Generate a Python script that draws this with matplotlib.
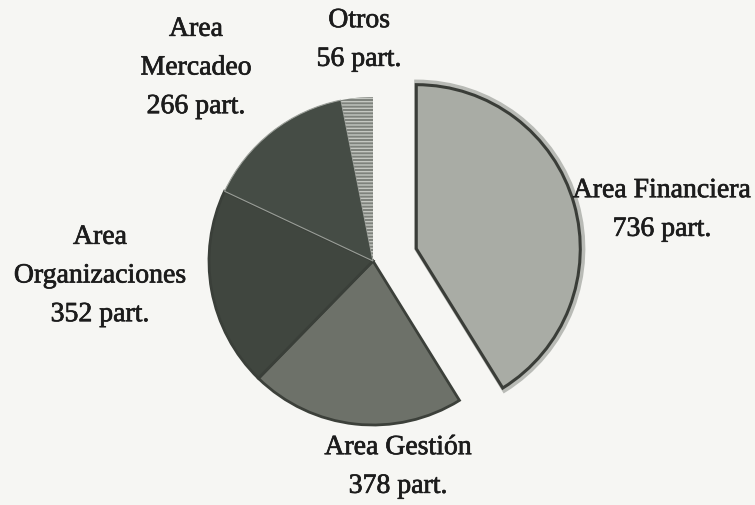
import matplotlib
matplotlib.use("Agg")
import matplotlib.pyplot as plt
from matplotlib.patches import Wedge
import matplotlib.patheffects as pe

# data
areas = ["Area Financiera", "Area Gestión", "Area Organizaciones", "Area Mercadeo", "Otros"]
participants = [736, 378, 352, 266, 56]
label_texts = ["Area Financiera\n736 part.", "Area Gestión\n378 part.",
               "Area\nOrganizaciones\n352 part.", "Area\nMercadeo\n266 part.",
               "Otros\n56 part."]

W, H = 755, 506
matplotlib.rcParams["hatch.color"] = "#c4c7c1"
matplotlib.rcParams["hatch.linewidth"] = 1.0
fig = plt.figure(figsize=(W / 100, H / 100), dpi=100)
fig.patch.set_facecolor("#f6f6f3")
ax = fig.add_axes([0, 0, 1, 1])

colors = ["#a9aca5", "#6d7169", "#40463f", "#454c45", "#7e827c"]
cx, cy, r = 373, H - 262, 164
explode = [45, 0, 0, 0, 0]

wedges, _ = ax.pie(participants, colors=colors, explode=explode, startangle=90,
                   counterclock=False, center=(cx, cy), radius=r, frame=True,
                   wedgeprops=dict(edgecolor="#3a3d38", linewidth=2.0))
ax.set_xlim(0, W)
ax.set_ylim(0, H)
ax.set_aspect("equal")
ax.axis("off")

# light rim around the exploded slice (derived from the slice itself)
fin = wedges[0]
rim = Wedge(fin.center, fin.r + 3, fin.theta1, fin.theta2, facecolor="none",
            edgecolor="#b9bbb6", linewidth=3.0, zorder=fin.get_zorder() - 0.5)
ax.add_patch(rim)

# styling details
wedges[0].set_linewidth(2.2)
wedges[1].set_edgecolor("#3c403a")
wedges[2].set_edgecolor("#3a3f39")
wedges[3].set_edgecolor("#9a9e98")
wedges[3].set_linewidth(0.8)
wedges[4].set_hatch("-----")
wedges[4].set_edgecolor("#c4c7c1")
wedges[4].set_linewidth(0.0)

label_pos = [(662, H - 211), (398, H - 468), (100, H - 277), (196, H - 69), (359, H - 41)]
for txt, (x, y) in zip(label_texts, label_pos):
    ax.text(x, y, txt, ha="center", va="center", family="Liberation Serif",
            fontsize=20, color="#1c1c1c", linespacing=1.72,
            path_effects=[pe.withStroke(linewidth=0.5, foreground="#1c1c1c")])

fig.savefig("out.png", dpi=100, facecolor=fig.get_facecolor())
